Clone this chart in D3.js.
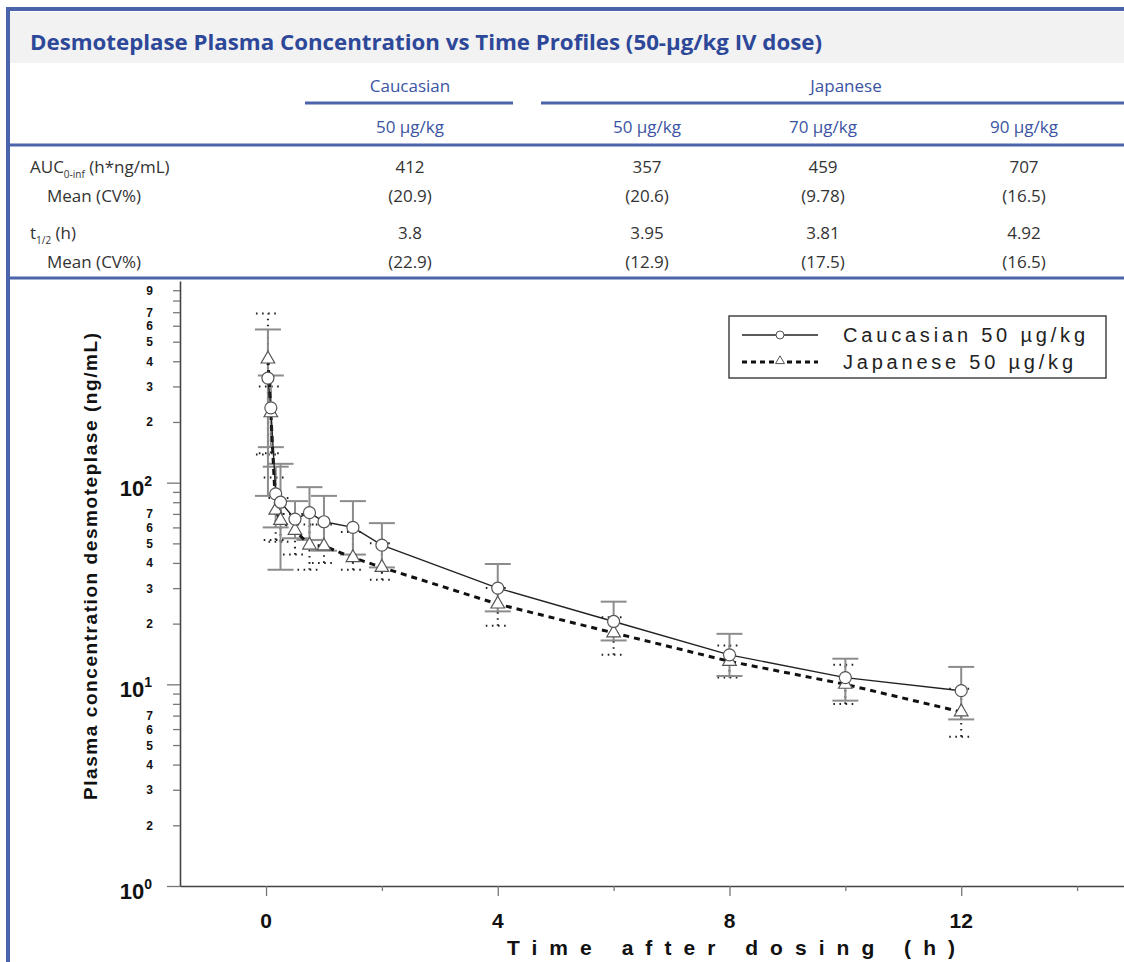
<!doctype html>
<html>
<head>
<meta charset="UTF-8">
<title>Desmoteplase plasma concentration</title>
<script src="https://cdn.jsdelivr.net/npm/d3@7"></script>
<style>
  body { margin: 0; background: #fff; }
  svg text { font-family: "Liberation Sans", Arial, sans-serif; }
  .tbl { font-family: "Open Sans", "Noto Sans", sans-serif; }
</style>
</head>
<body>
<svg id="chart" width="1124" height="962"></svg>
<script>
// ---- table data ----
var groupNames = ["Caucasian", "Japanese"];
var doseLabels = ["50 µg/kg", "50 µg/kg", "70 µg/kg", "90 µg/kg"];
var aucMean = ["412", "357", "459", "707"];
var aucCV = ["(20.9)", "(20.6)", "(9.78)", "(16.5)"];
var halfLife = ["3.8", "3.95", "3.81", "4.92"];
var halfCV = ["(22.9)", "(12.9)", "(17.5)", "(16.5)"];

// ---- plot data (h, ng/mL) ----
var times = [0.033, 0.083, 0.167, 0.25, 0.5, 0.75, 1, 1.5, 2, 4, 6, 8, 10, 12];
var cauMean = [330, 235, 88, 80, 66, 71, 64, 60, 49, 30, 20.5, 14, 10.8, 9.3];
var cauUpper = [575, 340, 120, 124, 81, 95, 86, 81, 63, 39.5, 25.7, 17.8, 13.4, 12.2];
var cauLower = [86, 150, 60, 37, 53, 52, 46, 44, 38, 23, 16.5, 11, 8.3, 6.7];
var japMean = [410, 222, 73, 65, 58, 49, 48.5, 42.5, 38, 25, 18, 13, 10, 7.3];
var japUpper = [690, 300, 106, 84, 70, 62, 62, 57, 50, 30, 21.5, 15.6, 12.5, 9.5];
var japLower = [138, 140, 52, 51, 44, 37, 40, 37, 33, 19.5, 14, 10.8, 8, 5.5];

var xMajor = [0, 4, 8, 12];
var xMinor = [2, 6, 10, 14];
var yMajor = [1, 10, 100];
var yMinor = [2,3,4,5,6,7,8,9, 20,30,40,50,60,70,80,90, 200,300,400,500,600,700,800,900];
var yMinorLabels = [2,3,4,5,6,7, 20,30,40,50,60,70, 200,300,400,500,600,700,900];
var legendNames = ["Caucasian 50 µg/kg", "Japanese 50 µg/kg"];

var blue = "#3a54a3";
var svg = d3.select("#chart");

// ---- frame + table ----
svg.append("rect").attr("x", 10).attr("y", 12).attr("width", 1114).attr("height", 51).attr("fill", "#f2f2f3");
svg.append("line").attr("x1", 6).attr("x2", 1124).attr("y1", 9).attr("y2", 9)
   .attr("stroke", "#4b63aa").attr("stroke-width", 4);
svg.append("line").attr("x1", 8).attr("x2", 8).attr("y1", 7).attr("y2", 962)
   .attr("stroke", "#4b63aa").attr("stroke-width", 4);

svg.append("text").attr("class", "tbl").attr("x", 30).attr("y", 50)
   .attr("font-size", 22).attr("font-weight", "bold").attr("fill", "#2d4898")
   .attr("textLength", 792).attr("lengthAdjust", "spacingAndGlyphs")
   .text("Desmoteplase Plasma Concentration vs Time Profiles (50-µg/kg IV dose)");

var colX = [410, 647, 823, 1024];
var groupX = [410, 846];
var groupLines = [[305, 513], [541, 1124]];

svg.selectAll(".grp").data(groupNames).enter().append("text")
   .attr("class", "tbl").attr("x", function(d, i){ return groupX[i]; }).attr("y", 92)
   .attr("text-anchor", "middle").attr("font-size", 17).attr("fill", blue)
   .text(function(d){ return d; });
svg.selectAll(".gline").data(groupLines).enter().append("line")
   .attr("x1", function(d){ return d[0]; }).attr("x2", function(d){ return d[1]; })
   .attr("y1", 103).attr("y2", 103).attr("stroke", "#4b63aa").attr("stroke-width", 3);
svg.selectAll(".dose").data(doseLabels).enter().append("text")
   .attr("class", "tbl").attr("x", function(d, i){ return colX[i]; }).attr("y", 133)
   .attr("text-anchor", "middle").attr("font-size", 17).attr("fill", blue)
   .text(function(d){ return d; });
svg.append("line").attr("x1", 10).attr("x2", 1124).attr("y1", 145).attr("y2", 145)
   .attr("stroke", "#4b63aa").attr("stroke-width", 3);
svg.append("line").attr("x1", 10).attr("x2", 1124).attr("y1", 278).attr("y2", 278)
   .attr("stroke", "#4b63aa").attr("stroke-width", 3);

var rows = [[aucMean, 173], [aucCV, 202], [halfLife, 239], [halfCV, 268]];
rows.forEach(function(r){
  svg.selectAll(null).data(r[0]).enter().append("text")
     .attr("class", "tbl").attr("x", function(d, i){ return colX[i]; }).attr("y", r[1])
     .attr("text-anchor", "middle").attr("font-size", 17).attr("fill", "#333")
     .text(function(d){ return d; });
});
var auc = svg.append("text").attr("class", "tbl").attr("x", 30).attr("y", 173)
   .attr("font-size", 17).attr("fill", "#333");
auc.append("tspan").text("AUC");
auc.append("tspan").attr("font-size", 10).attr("dy", 5).text("0-inf");
auc.append("tspan").attr("dy", -5).text(" (h*ng/mL)");
var th = svg.append("text").attr("class", "tbl").attr("x", 30).attr("y", 239)
   .attr("font-size", 17).attr("fill", "#333");
th.append("tspan").text("t");
th.append("tspan").attr("font-size", 10).attr("dy", 5).text("1/2");
th.append("tspan").attr("dy", -5).text(" (h)");
[202, 268].forEach(function(yy){
  svg.append("text").attr("class", "tbl").attr("x", 47).attr("y", yy)
     .attr("font-size", 17).attr("fill", "#333").text("Mean (CV%)");
});

// ---- scales ----
var x = d3.scaleLinear().domain([-1.485, 14.81]).range([180, 1124]);
var y = d3.scaleLog().domain([1, 1000]).range([886, 281]);

// ---- axes ----
svg.append("g").attr("transform", "translate(0,886)")
   .call(d3.axisBottom(x).tickValues(xMajor).tickSize(10).tickSizeOuter(0).tickFormat(""));
svg.append("g").attr("transform", "translate(0,886)")
   .call(d3.axisBottom(x).tickValues(xMinor).tickSize(5).tickFormat(""))
   .select(".domain").remove();
svg.append("g").attr("transform", "translate(180,0)")
   .call(d3.axisLeft(y).tickValues(yMajor).tickSize(13).tickSizeOuter(0).tickFormat(""));
svg.append("g").attr("transform", "translate(180,0)")
   .call(d3.axisLeft(y).tickValues(yMinor).tickSize(7).tickFormat(""))
   .select(".domain").remove();
svg.selectAll(".domain").attr("stroke", "#444").attr("stroke-width", 1.6);
svg.selectAll(".tick line").attr("stroke", "#777").attr("stroke-width", 1.3);

svg.selectAll(".xl").data(xMajor).enter().append("text")
   .attr("x", function(d){ return x(d); }).attr("y", 928)
   .attr("text-anchor", "middle").attr("font-size", 21).attr("font-weight", "bold").attr("fill", "#111")
   .text(function(d){ return d; });

svg.selectAll(".yml").data(yMinorLabels).enter().append("text")
   .attr("x", 153).attr("y", function(d){ return y(d) + 4.5; })
   .attr("text-anchor", "end").attr("font-size", 12).attr("font-weight", "bold").attr("fill", "#111")
   .text(function(d){ return String(d)[0]; });

var majLab = svg.selectAll(".yMaj").data(yMajor).enter().append("text")
   .attr("x", 152).attr("y", function(d){ return y(d) + 13; })
   .attr("text-anchor", "end").attr("font-weight", "bold").attr("fill", "#111");
majLab.append("tspan").attr("font-size", 22).text("10");
majLab.append("tspan").attr("font-size", 14).attr("dy", -10)
   .text(function(d){ return Math.round(Math.log10(d)); });

svg.append("text").attr("x", 507).attr("y", 955)
   .attr("font-size", 21).attr("font-weight", "bold").attr("fill", "#111")
   .attr("textLength", 448).attr("lengthAdjust", "spacing")
   .text("Time after dosing (h)");
svg.append("text").attr("transform", "translate(97,800) rotate(-90)")
   .attr("font-size", 19).attr("font-weight", "bold").attr("fill", "#111")
   .attr("textLength", 467).attr("lengthAdjust", "spacing")
   .text("Plasma concentration desmoteplase (ng/mL)");

// ---- error bars ----
function errorBars(up, lo, color, width, dash, cap){
  var g = svg.append("g").attr("stroke", color).attr("stroke-width", width)
     .attr("stroke-dasharray", dash).attr("fill", "none");
  times.forEach(function(t, i){
    var cx = x(t);
    g.append("line").attr("x1", cx).attr("x2", cx).attr("y1", y(lo[i])).attr("y2", y(up[i]));
    [up[i], lo[i]].forEach(function(v){
      g.append("line").attr("x1", cx - cap).attr("x2", cx + cap).attr("y1", y(v)).attr("y2", y(v));
    });
  });
}
errorBars(japUpper, japLower, "#222", 2, "1.6,4.5", 12);
errorBars(cauUpper, cauLower, "#8c8c8c", 2, null, 13);

// ---- lines ----
var line = d3.line().x(function(d){ return x(d[0]); }).y(function(d){ return y(d[1]); });
svg.append("path").datum(d3.zip(times, japMean)).attr("d", line)
   .attr("fill", "none").attr("stroke", "#111").attr("stroke-width", 3).attr("stroke-dasharray", "6,5");
svg.append("path").datum(d3.zip(times, cauMean)).attr("d", line)
   .attr("fill", "none").attr("stroke", "#222").attr("stroke-width", 1.4);

// ---- markers ----
var tri = d3.symbol().type(d3.symbolTriangle).size(80);
svg.selectAll(".tri").data(d3.zip(times, japMean)).enter().append("path")
   .attr("d", tri).attr("transform", function(d){ return "translate(" + x(d[0]) + "," + y(d[1]) + ")"; })
   .attr("fill", "#fff").attr("stroke", "#555").attr("stroke-width", 1.2);
svg.selectAll(".cir").data(d3.zip(times, cauMean)).enter().append("circle")
   .attr("cx", function(d){ return x(d[0]); }).attr("cy", function(d){ return y(d[1]); })
   .attr("r", 6).attr("fill", "#fff").attr("stroke", "#555").attr("stroke-width", 1.2);

// ---- legend ----
var lg = svg.append("g");
lg.append("rect").attr("x", 729).attr("y", 316).attr("width", 377).attr("height", 62)
   .attr("fill", "#fff").attr("stroke", "#444").attr("stroke-width", 1.5);
lg.append("line").attr("x1", 742).attr("x2", 818).attr("y1", 335).attr("y2", 335)
   .attr("stroke", "#222").attr("stroke-width", 1.4);
lg.append("circle").attr("cx", 780).attr("cy", 335).attr("r", 4)
   .attr("fill", "#fff").attr("stroke", "#555");
lg.append("line").attr("x1", 742).attr("x2", 818).attr("y1", 362).attr("y2", 362)
   .attr("stroke", "#111").attr("stroke-width", 3).attr("stroke-dasharray", "5,4");
lg.append("path").attr("d", d3.symbol().type(d3.symbolTriangle).size(35))
   .attr("transform", "translate(780,361)").attr("fill", "#fff").attr("stroke", "#555");
lg.selectAll(".lt").data(legendNames).enter().append("text")
   .attr("x", 843).attr("y", function(d, i){ return 342 + i * 27; })
   .attr("font-size", 20).attr("fill", "#222")
   .attr("textLength", function(d, i){ return i === 0 ? 242 : 230; }).attr("lengthAdjust", "spacing")
   .text(function(d){ return d; });
</script>
</body>
</html>
